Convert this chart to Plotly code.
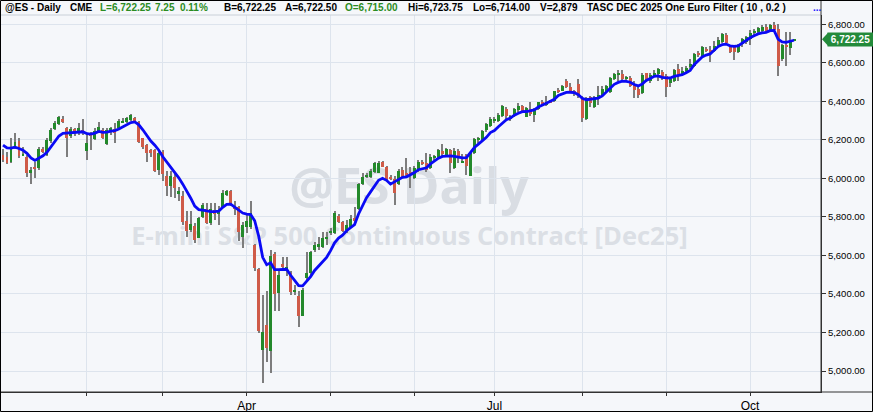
import base64
import plotly.graph_objects as go
import pandas as pd

# ---------------- data ----------------
holidays = ["2025-01-20", "2025-02-17", "2025-04-18", "2025-05-26",
            "2025-06-19", "2025-07-04", "2025-09-01"]
days = [d for d in pd.bdate_range("2025-01-02", "2025-10-16")
        if d.strftime("%Y-%m-%d") not in holidays]

opens = [6121, 6112, 6086, 6159, 6193, 6121, 6112, 6028, 6052, 6052,
         6155, 6121, 6193, 6255, 6281, 6310, 6264, 6221, 6254, 6233,
         6250, 6142, 6231, 6204, 6247, 6250, 6178, 6247, 6255, 6262,
         6290, 6293, 6305, 6311, 6293, 6207, 6171, 6147, 6147, 6043,
         6135, 6010, 5960, 6006, 5920, 5909, 5781, 5733, 5754, 5693,
         5802, 5840, 5767, 5837, 5819, 5850, 5914, 5937, 5854, 5850,
         5695, 5747, 5745, 5655, 5530, 5110, 5237, 5105, 5608, 5404,
         5556, 5530, 5508, 5413, 5390, 5283, 5482, 5508, 5629, 5643,
         5646, 5690, 5714, 5715, 5807, 5771, 5733, 5747, 5795, 5840,
         5971, 6012, 6006, 6035, 6030, 6087, 6058, 6001, 5997, 5970,
         6044, 6027, 6030, 6001, 6044, 6087, 6079, 6053, 6110, 6113,
         6144, 6122, 6148, 6053, 6144, 6084, 6122, 6013, 6131, 6200,
         6196, 6252, 6274, 6301, 6298, 6326, 6359, 6307, 6326, 6356,
         6377, 6321, 6359, 6330, 6359, 6399, 6382, 6404, 6404, 6451,
         6456, 6503, 6473, 6451, 6491, 6411, 6307, 6421, 6370, 6425,
         6425, 6446, 6446, 6515, 6540, 6543, 6520, 6520, 6485, 6465,
         6442, 6546, 6503, 6532, 6543, 6552, 6533, 6495, 6507, 6568,
         6542, 6556, 6576, 6585, 6646, 6637, 6668, 6666, 6659, 6689,
         6706, 6746, 6689, 6684, 6654, 6697, 6706, 6723, 6756, 6758,
         6763, 6787, 6763, 6798, 6775, 6620, 6686, 6677, 6715]
highs = [6155, 6138, 6207, 6233, 6210, 6164, 6121, 6060, 6086, 6164,
         6164, 6210, 6260, 6297, 6326, 6324, 6268, 6268, 6262, 6285,
         6310, 6233, 6242, 6259, 6290, 6262, 6259, 6267, 6285, 6307,
         6314, 6319, 6335, 6319, 6300, 6211, 6176, 6155, 6155, 6135,
         6147, 6040, 6040, 6027, 5957, 5932, 5828, 5828, 5767, 5802,
         5871, 5871, 5871, 5871, 5854, 5940, 5940, 5940, 5880, 5854,
         5776, 5819, 5880, 5660, 5535, 5396, 5413, 5629, 5620, 5525,
         5594, 5591, 5517, 5447, 5413, 5430, 5620, 5624, 5672, 5698,
         5724, 5724, 5741, 5828, 5816, 5781, 5785, 5811, 5850, 5978,
         6027, 6027, 6047, 6087, 6092, 6092, 6065, 6018, 6013, 6047,
         6058, 6105, 6058, 6065, 6096, 6096, 6134, 6127, 6122, 6151,
         6179, 6156, 6151, 6156, 6151, 6127, 6127, 6134, 6208, 6217,
         6252, 6286, 6317, 6317, 6338, 6382, 6373, 6330, 6364, 6390,
         6382, 6373, 6399, 6364, 6399, 6408, 6428, 6408, 6456, 6468,
         6485, 6515, 6494, 6460, 6515, 6425, 6420, 6428, 6425, 6480,
         6480, 6485, 6525, 6549, 6563, 6560, 6532, 6529, 6503, 6473,
         6546, 6549, 6546, 6560, 6572, 6560, 6542, 6524, 6568, 6594,
         6576, 6585, 6620, 6649, 6663, 6689, 6680, 6689, 6715, 6732,
         6753, 6753, 6694, 6694, 6697, 6729, 6741, 6770, 6775, 6787,
         6798, 6801, 6801, 6810, 6801, 6697, 6758, 6758, 6723.75]
lows = [6083, 6074, 6078, 6150, 6104, 6115, 6005, 5971, 6000, 6043,
        6130, 6115, 6185, 6250, 6275, 6285, 6112, 6210, 6220, 6225,
        6224, 6095, 6147, 6198, 6242, 6204, 6173, 6224, 6185, 6255,
        6285, 6285, 6300, 6285, 6185, 6155, 6086, 6112, 6031, 6017,
        5985, 5910, 5905, 5897, 5880, 5760, 5698, 5724, 5664, 5690,
        5793, 5764, 5759, 5785, 5759, 5845, 5906, 5854, 5811, 5677,
        5638, 5715, 5735, 5517, 5197, 4937, 5045, 4989, 5309, 5309,
        5525, 5491, 5396, 5396, 5231, 5283, 5473, 5499, 5620, 5629,
        5638, 5655, 5707, 5712, 5767, 5724, 5715, 5741, 5772, 5837,
        5966, 6001, 6001, 6030, 6027, 6058, 5984, 5989, 5862, 5966,
        6001, 6001, 5949, 5996, 6035, 6070, 6035, 6047, 6096, 6108,
        6117, 6117, 6030, 6047, 6082, 6079, 6018, 6013, 6127, 6182,
        6191, 6243, 6269, 6286, 6295, 6321, 6304, 6300, 6321, 6347,
        6338, 6321, 6325, 6290, 6356, 6377, 6377, 6390, 6399, 6442,
        6451, 6468, 6446, 6425, 6416, 6290, 6304, 6370, 6364, 6382,
        6421, 6442, 6442, 6511, 6503, 6508, 6503, 6473, 6416, 6416,
        6439, 6498, 6494, 6529, 6508, 6510, 6421, 6476, 6499, 6504,
        6533, 6550, 6568, 6580, 6632, 6632, 6654, 6602, 6654, 6685,
        6701, 6694, 6649, 6614, 6649, 6680, 6697, 6694, 6746, 6746,
        6758, 6753, 6758, 6758, 6533, 6611, 6585, 6642, 6714]
closes = [6095, 6078, 6155, 6188, 6117, 6125, 6026, 6043, 6050, 6155,
          6135, 6198, 6250, 6285, 6316, 6290, 6210, 6254, 6233, 6262,
          6242, 6185, 6219, 6247, 6267, 6211, 6250, 6259, 6235, 6298,
          6295, 6311, 6328, 6293, 6188, 6161, 6130, 6130, 6038, 6130,
          6023, 5960, 6010, 5949, 5937, 5776, 5729, 5764, 5681, 5793,
          5862, 5767, 5840, 5814, 5828, 5923, 5932, 5862, 5840, 5724,
          5759, 5781, 5818, 5537, 5209, 5202, 5122, 5598, 5401, 5499,
          5539, 5532, 5408, 5418, 5287, 5422, 5511, 5620, 5655, 5660,
          5690, 5692, 5728, 5819, 5776, 5729, 5759, 5790, 5780, 5971,
          6006, 6015, 6039, 6079, 6082, 6061, 5992, 5997, 5923, 6039,
          6006, 6021, 6023, 6053, 6087, 6075, 6044, 6113, 6113, 6148,
          6127, 6155, 6082, 6144, 6113, 6087, 6065, 6131, 6203, 6203,
          6248, 6281, 6309, 6305, 6329, 6377, 6326, 6325, 6359, 6377,
          6342, 6364, 6333, 6356, 6394, 6382, 6399, 6394, 6451, 6449,
          6480, 6473, 6456, 6447, 6425, 6313, 6416, 6390, 6420, 6430,
          6463, 6477, 6520, 6543, 6543, 6515, 6521, 6480, 6460, 6434,
          6537, 6503, 6537, 6549, 6567, 6525, 6476, 6516, 6563, 6533,
          6559, 6573, 6594, 6646, 6642, 6680, 6665, 6649, 6689, 6718,
          6749, 6701, 6654, 6654, 6689, 6723, 6732, 6753, 6758, 6780,
          6787, 6758, 6798, 6770, 6585, 6694, 6683, 6715, 6722.25]
# TASC One Euro Filter (10, 0.2) values
euro_filter = [6173, 6158, 6157, 6162, 6155, 6146, 6130, 6106, 6093, 6104,
               6117, 6135, 6163, 6196, 6220, 6234, 6236, 6236, 6238, 6243,
               6242, 6232, 6230, 6235, 6244, 6239, 6240, 6245, 6248, 6256,
               6267, 6279, 6290, 6293, 6278, 6252, 6222, 6194, 6172, 6146,
               6112, 6084, 6060, 6033, 6003, 5970, 5935, 5897, 5856, 5838,
               5835, 5829, 5827, 5827, 5830, 5850, 5865, 5866, 5852, 5836,
               5820, 5814, 5812, 5780, 5700, 5590, 5552, 5562, 5526, 5526,
               5528, 5528, 5497, 5470, 5443, 5442, 5465, 5490, 5522, 5545,
               5566, 5590, 5625, 5665, 5690, 5705, 5728, 5745, 5760, 5815,
               5862, 5900, 5930, 5962, 5990, 6000, 5990, 5970, 5982, 5995,
               6005, 6008, 6018, 6030, 6045, 6052, 6055, 6075, 6092, 6105,
               6114, 6117, 6117, 6114, 6110, 6106, 6108, 6135, 6160, 6178,
               6195, 6213, 6238, 6248, 6268, 6288, 6304, 6313, 6328, 6338,
               6346, 6347, 6350, 6355, 6370, 6382, 6390, 6400, 6410, 6430,
               6440, 6446, 6447, 6445, 6434, 6416, 6408, 6410, 6413, 6417,
               6428, 6448, 6472, 6488, 6498, 6505, 6503, 6499, 6487, 6480,
               6490, 6508, 6518, 6530, 6532, 6524, 6522, 6521, 6530, 6535,
               6538, 6548, 6560, 6590, 6612, 6630, 6640, 6646, 6665, 6684,
               6694, 6697, 6688, 6685, 6688, 6703, 6718, 6730, 6740, 6750,
               6755, 6758, 6767, 6768, 6723, 6708, 6706, 6710, 6717]

y_ticks = [5000, 5200, 5400, 5600, 5800, 6000, 6200, 6400, 6600, 6800]
month_labels = {"2025-04": "Apr", "2025-07": "Jul", "2025-10": "Oct"}
last_price = 6722.25
watermark_title = "@ES Daily"
watermark_sub = "E-mini S&amp;P 500 Continuous Contract [Dec25]"

# ---------------- derived for drawing ----------------
idx = list(range(len(days)))
month_idx, month_text = [], []
prev = days[0].strftime("%Y-%m")
for i, d in enumerate(days):
    m = d.strftime("%Y-%m")
    if m != prev:
        month_idx.append(i)
        month_text.append(month_labels.get(m, ""))
    prev = m

UP = "#23892b"
DOWN = "#cf5b48"
WICK = "#7d7d7d"
BG = "#f5f7fa"
GRID = "#dde4ed"

wick_base = list(lows)
wick_len = [h - l for h, l in zip(highs, lows)]

body_base, body_h, body_col = [], [], []
for o, c in zip(opens, closes):
    lo_, hi_ = min(o, c), max(o, c)
    body_base.append(lo_)
    body_h.append(max(hi_ - lo_, 5))
    body_col.append(UP if c >= o else DOWN)

W, H = 873, 412
ML, MR, MT, MB = 1, 52, 15, 20
PW = W - ML - MR
PH = H - MT - MB


def px(xp):
    return (xp - ML) / PW


def py(yp):
    return (H - MB - yp) / PH


fig = go.Figure()
fig.add_trace(go.Bar(x=idx, y=wick_len, base=wick_base, width=0.26,
                     marker=dict(color=WICK, line=dict(width=0)),
                     hoverinfo="skip", showlegend=False))
fig.add_trace(go.Bar(x=idx, y=body_h, base=body_base, width=0.74,
                     marker=dict(color=body_col, line=dict(width=0)),
                     showlegend=False))
fig.add_trace(go.Scatter(x=idx, y=euro_filter, mode="lines",
                         line=dict(color="#0a0af5", width=2.8),
                         showlegend=False))

# watermark behind the data (layout image below traces)
svg = (f'<svg xmlns="http://www.w3.org/2000/svg" width="{PW}" height="{PH}">'
       f'<text x="{409 - ML}" y="{185 - MT}" text-anchor="middle" dominant-baseline="central" '
       f'font-family="Open Sans" font-weight="bold" font-size="50" fill="#d9dde3">{watermark_title}</text>'
       f'<text x="{409.5 - ML}" y="{235 - MT}" text-anchor="middle" dominant-baseline="central" '
       f'font-family="Open Sans" font-weight="bold" font-size="25.5" fill="#dbdfe5">{watermark_sub}</text>'
       f'</svg>')
fig.add_layout_image(source="data:image/svg+xml;base64," + base64.b64encode(svg.encode()).decode(),
                     xref="paper", yref="paper", x=0, y=1, sizex=1, sizey=1,
                     sizing="stretch", xanchor="left", yanchor="top", layer="below")

fig.update_layout(
    width=W, height=H,
    margin=dict(l=ML, r=MR, t=MT, b=MB, pad=0),
    paper_bgcolor=BG, plot_bgcolor=BG,
    barmode="overlay", bargap=0, showlegend=False,
    font=dict(family="Liberation Sans, Arial", size=11, color="#000"),
    xaxis=dict(range=[-0.5, 204.75], tickmode="array", tickvals=month_idx,
               ticktext=month_text, showgrid=True, gridcolor=GRID, gridwidth=1,
               ticks="outside", ticklen=3, tickcolor="#333", automargin=False,
               showline=True, linecolor="#333", linewidth=1, zeroline=False,
               tickfont=dict(family="Liberation Sans Narrow, Arial Narrow, Liberation Sans",
                             size=12, color="#000")),
    yaxis=dict(range=[4891, 6848], side="right", tickmode="array",
               tickvals=y_ticks, ticktext=[f"{v:,.2f}" for v in y_ticks],
               showgrid=True, gridcolor=GRID, gridwidth=1, automargin=False,
               ticks="outside", ticklen=4, tickcolor="#333",
               showline=True, linecolor="#333", linewidth=1, zeroline=False,
               tickfont=dict(family="Liberation Sans, Arial", size=9.5, color="#000")),
)

# header text
GREEN_TXT = "#2b8c22"
header = [(3, "@ES - Daily", "#000"), (68, "CME", "#000"),
          (98, "L=6,722.25", GREEN_TXT), (153, "7.25", GREEN_TXT),
          (178, "0.11%", GREEN_TXT), (222, "B=6,722.25", "#000"),
          (283, "A=6,722.50", "#000"), (343, "O=6,715.00", GREEN_TXT),
          (406, "Hi=6,723.75", "#000"), (471, "Lo=6,714.00", "#000"),
          (538, "V=2,879", "#000"),
          (585, "TASC DEC 2025 One Euro Filter ( 10 , 0.2 )", "#000"),
          (811, "...", "#1a1aff")]
for xp, t, c in header:
    fig.add_annotation(x=px(xp), y=py(8), xref="paper", yref="paper",
                       text=f"<b>{t}</b>", showarrow=False, xanchor="left",
                       yanchor="middle",
                       font=dict(family="Liberation Sans, Arial", size=10, color=c))

# last-price marker on the price axis
unit = (6848 - 4891) / PH
fig.add_shape(type="path", xref="paper", yref="y",
              path=f"M {px(822)},{last_price} L {px(828)},{last_price + 6.5 * unit} "
                   f"L {px(828)},{last_price - 6.5 * unit} Z",
              fillcolor="#238a3a", line=dict(width=0))
fig.add_annotation(x=px(827.5), y=last_price, xref="paper", yref="y",
                   text="<b>6,722.25</b>", showarrow=False, xanchor="left",
                   yanchor="middle", width=45, height=13, align="center",
                   bgcolor="#238a3a", borderpad=0,
                   font=dict(family="Liberation Sans, Arial", size=10, color="#fff"))

# frame lines
fig.add_shape(type="line", xref="paper", yref="paper", x0=px(1), x1=px(821),
              y0=py(15), y1=py(15), line=dict(color="#c9d0d8", width=1))
fig.add_shape(type="line", xref="paper", yref="paper", x0=px(0), x1=px(873),
              y0=py(392), y1=py(392), line=dict(color="#333", width=1))
fig.add_shape(type="line", xref="paper", yref="paper", x0=px(821), x1=px(821),
              y0=py(392), y1=py(0), line=dict(color="#333", width=1))
fig.add_shape(type="rect", xref="paper", yref="paper", x0=px(0.5), x1=px(872.5),
              y0=py(411.5), y1=py(0.5), line=dict(color="#000", width=1))

fig.write_html("out.html", config={"displayModeBar": False},
               post_script="document.body.style.margin='0px';document.body.style.overflow='hidden';")
